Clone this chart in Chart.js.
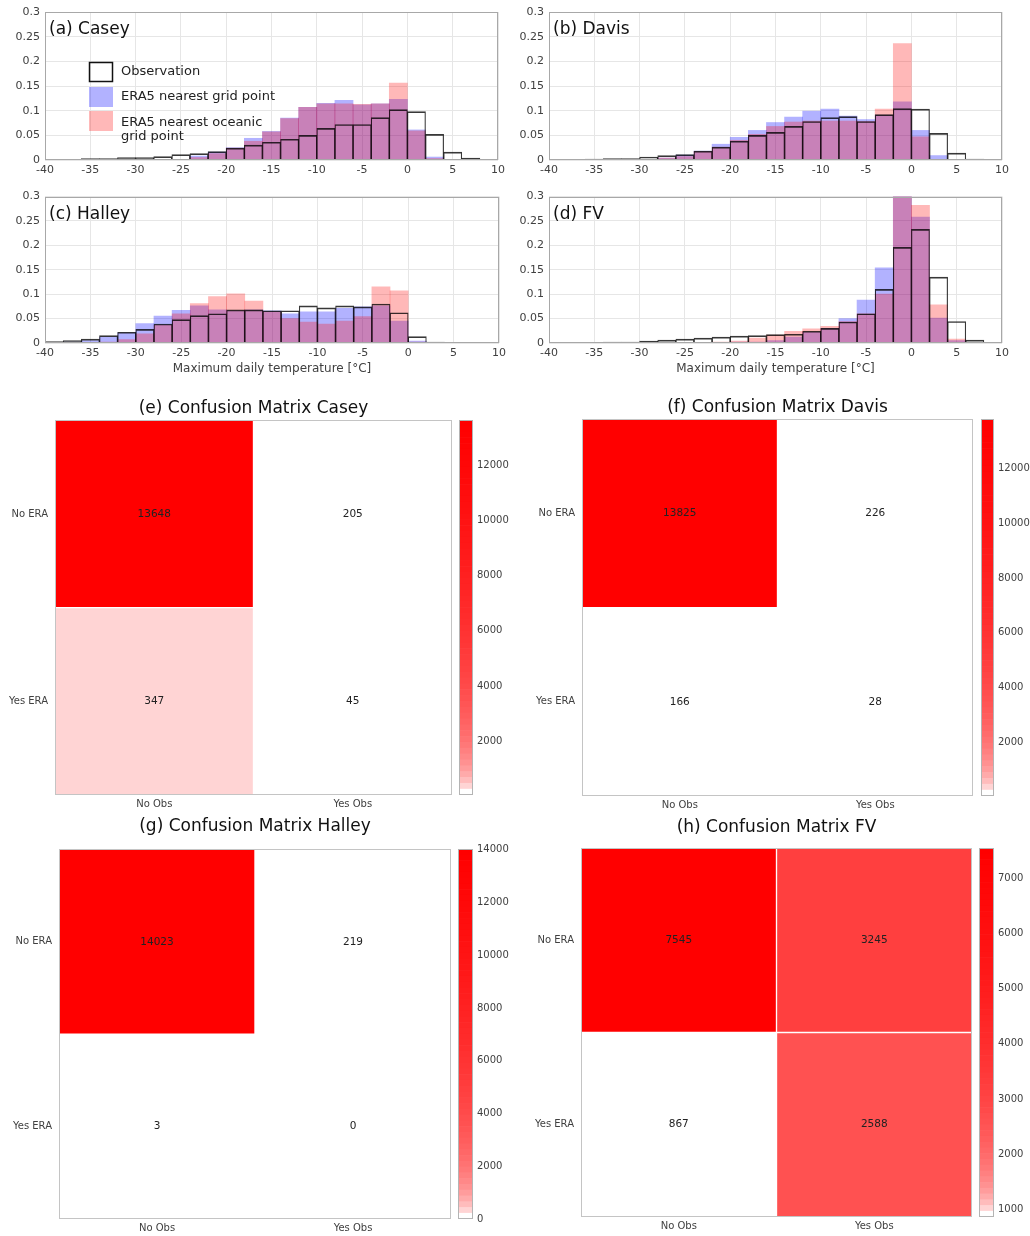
<!DOCTYPE html>
<html>
<head>
<meta charset="utf-8">
<script src="https://cdn.jsdelivr.net/npm/chart.js@4.4.0/dist/chart.umd.min.js"></script>
<style>
  body { margin: 0; background: #fff; }
  #wrap { position: relative; width: 1030px; height: 1236px; overflow: hidden; }
  canvas { position: absolute; }
</style>
</head>
<body>
<div id="wrap"></div>
<script>
// ---- histogram data: 2 degC bins from -40 to 10 ----
const binCentres = [-39, -37, -35, -33, -31, -29, -27, -25, -23, -21, -19, -17, -15, -13, -11, -9, -7, -5, -3, -1, 1, 3, 5, 7, 9];
const xTicks = [-40, -35, -30, -25, -20, -15, -10, -5, 0, 5, 10];
const yTicks = [0, 0.05, 0.1, 0.15, 0.2, 0.25, 0.3];
const yTickLabels = ['0', '0.05', '0.1', '0.15', '0.2', '0.25', '0.3'];

const caseyObs   = [0.001, 0.001, 0.003, 0.003, 0.005, 0.005, 0.007, 0.011, 0.013, 0.017, 0.024, 0.030, 0.036, 0.042, 0.050, 0.064, 0.072, 0.072, 0.086, 0.102, 0.098, 0.052, 0.016, 0.004, 0.001];
const caseyEra   = [0, 0, 0, 0, 0, 0, 0, 0.001, 0.008, 0.016, 0.025, 0.044, 0.058, 0.085, 0.107, 0.115, 0.121, 0.112, 0.114, 0.123, 0.061, 0.006, 0, 0, 0];
const caseyOcean = [0, 0, 0, 0, 0, 0, 0, 0, 0.005, 0.013, 0.024, 0.038, 0.057, 0.084, 0.107, 0.114, 0.114, 0.113, 0.114, 0.156, 0.059, 0.003, 0, 0, 0];

const davisObs   = [0, 0, 0.002, 0.003, 0.003, 0.006, 0.009, 0.011, 0.018, 0.026, 0.038, 0.050, 0.056, 0.068, 0.078, 0.086, 0.088, 0.078, 0.092, 0.104, 0.103, 0.054, 0.014, 0.002, 0];
const davisEra   = [0, 0, 0, 0, 0, 0.001, 0.004, 0.010, 0.018, 0.032, 0.046, 0.060, 0.076, 0.087, 0.099, 0.103, 0.089, 0.082, 0.091, 0.118, 0.060, 0.009, 0, 0, 0];
const davisOcean = [0, 0, 0, 0, 0, 0, 0.004, 0.007, 0.017, 0.026, 0.040, 0.052, 0.068, 0.077, 0.079, 0.079, 0.079, 0.078, 0.103, 0.236, 0.047, 0.001, 0, 0, 0];

const halleyObs   = [0.003, 0.005, 0.008, 0.015, 0.022, 0.028, 0.039, 0.048, 0.056, 0.060, 0.068, 0.068, 0.066, 0.066, 0.076, 0.072, 0.076, 0.074, 0.080, 0.062, 0.013, 0.002, 0, 0, 0];
const halleyEra   = [0, 0.002, 0.005, 0.012, 0.021, 0.040, 0.055, 0.067, 0.076, 0.068, 0.066, 0.068, 0.066, 0.060, 0.064, 0.064, 0.071, 0.074, 0.076, 0.045, 0.004, 0, 0, 0, 0];
const halleyOcean = [0, 0, 0, 0.002, 0.007, 0.019, 0.036, 0.060, 0.081, 0.095, 0.101, 0.086, 0.064, 0.050, 0.043, 0.039, 0.045, 0.054, 0.115, 0.107, 0.002, 0, 0, 0, 0];

const fvObs   = [0, 0, 0.001, 0.002, 0.002, 0.004, 0.006, 0.008, 0.010, 0.012, 0.014, 0.015, 0.017, 0.018, 0.024, 0.030, 0.043, 0.060, 0.110, 0.196, 0.233, 0.135, 0.044, 0.006, 0];
const fvEra   = [0, 0, 0, 0, 0, 0, 0, 0, 0, 0.001, 0.002, 0.002, 0.005, 0.012, 0.022, 0.030, 0.050, 0.088, 0.154, 0.310, 0.258, 0.051, 0.005, 0, 0];
const fvOcean = [0, 0, 0, 0, 0, 0, 0, 0, 0.001, 0.002, 0.004, 0.010, 0.016, 0.024, 0.029, 0.034, 0.044, 0.060, 0.100, 0.330, 0.282, 0.078, 0.008, 0, 0];

// ---- confusion matrices: rows = ERA (No / Yes), columns = Obs (No / Yes) ----
const eraLabels = ['No ERA', 'Yes ERA'];
const obsLabels = ['No Obs', 'Yes Obs'];
const caseyMatrix  = [[13648, 205], [347, 45]];
const davisMatrix  = [[13825, 226], [166, 28]];
const halleyMatrix = [[14023, 219], [3, 0]];
const fvMatrix     = [[7545, 3245], [867, 2588]];

const caseyBarTicks  = [2000, 4000, 6000, 8000, 10000, 12000];
const davisBarTicks  = [2000, 4000, 6000, 8000, 10000, 12000];
const halleyBarTicks = [0, 2000, 4000, 6000, 8000, 10000, 12000, 14000];
const fvBarTicks     = [1000, 2000, 3000, 4000, 5000, 6000, 7000];

const FONT = '"DejaVu Sans", sans-serif';
Chart.defaults.font.family = FONT;
Chart.defaults.color = '#404040';
Chart.defaults.animation = false;

function addCanvas(p) {
  const c = document.createElement('canvas');
  c.width = p.w; c.height = p.h;
  c.style.left = p.left + 'px'; c.style.top = p.top + 'px';
  c.style.width = p.w + 'px'; c.style.height = p.h + 'px';
  document.getElementById('wrap').appendChild(c);
  return c;
}

// grey box round the axes, like the matlab figure
const frame = {
  id: 'frame',
  afterDraw(chart, args, opts) {
    const a = chart.chartArea, ctx = chart.ctx;
    ctx.save();
    ctx.strokeStyle = opts.color || '#a8a8a8';
    ctx.lineWidth = 1;
    ctx.strokeRect(Math.round(a.left) + 0.5, Math.round(a.top) + 0.5,
      Math.round(a.right - a.left) - 1, Math.round(a.bottom - a.top) - 1);
    ctx.restore();
  }
};

// "(a) Casey" etc inside the top-left corner
const panelLabel = {
  id: 'panelLabel',
  afterDraw(chart, args, opts) {
    if (!opts.text) return;
    const a = chart.chartArea, ctx = chart.ctx;
    ctx.save();
    ctx.font = '17px ' + FONT;
    ctx.fillStyle = '#111';
    ctx.textBaseline = 'alphabetic';
    ctx.fillText(opts.text, a.left + 4, a.top + 22);
    ctx.restore();
  }
};

// legend only for panel (a), drawn inside the axes
const boxLegend = {
  id: 'boxLegend',
  afterDraw(chart, args, opts) {
    if (!opts.show) return;
    const a = chart.chartArea, ctx = chart.ctx;
    const ds = chart.data.datasets;
    const x = a.left + 44, tx = a.left + 76;
    ctx.save();
    ctx.font = '13px ' + FONT;
    ctx.fillStyle = '#222';
    ctx.textBaseline = 'middle';
    // Observation
    ctx.strokeStyle = '#111';
    ctx.lineWidth = 1.5;
    ctx.strokeRect(x + 0.5, a.top + 50.5, 23, 19);
    ctx.fillText(ds[0].label, tx, a.top + 60);
    // ERA5 nearest grid point
    ctx.fillStyle = ds[2].backgroundColor;
    ctx.fillRect(x, a.top + 75, 24, 20);
    ctx.fillStyle = '#222';
    ctx.fillText(ds[2].label, tx, a.top + 85);
    // ERA5 nearest oceanic grid point (two lines)
    ctx.fillStyle = ds[1].backgroundColor;
    ctx.fillRect(x, a.top + 99, 24, 20);
    ctx.fillStyle = '#222';
    ctx.fillText('ERA5 nearest oceanic', tx, a.top + 111);
    ctx.fillText('grid point', tx, a.top + 125);
    ctx.restore();
  }
};

function histogram(p, label, obs, era, ocean, legend, xTitle) {
  const pts = arr => binCentres.map((x, i) => ({ x: x, y: arr[i] }));
  return new Chart(addCanvas(p), {
    type: 'bar',
    data: {
      datasets: [
        // half-width side borders so neighbouring bins share a single 1px edge
        { label: 'Observation', data: pts(obs), backgroundColor: 'rgba(0,0,0,0)',
          borderColor: 'rgba(0,0,0,0.78)', borderWidth: { top: 1, left: 0.5, right: 0.5, bottom: 0 },
          borderSkipped: false, grouped: false },
        { label: 'ERA5 nearest oceanic grid point', data: pts(ocean), backgroundColor: 'rgba(255,0,0,0.28)',
          borderWidth: 0, grouped: false },
        { label: 'ERA5 nearest grid point', data: pts(era), backgroundColor: 'rgba(0,0,255,0.3)',
          borderWidth: 0, grouped: false }
      ]
    },
    options: {
      responsive: false,
      animation: false,
      events: [],
      layout: { autoPadding: false, padding: { top: p.padTop, right: p.padRight, left: 0, bottom: 0 } },
      datasets: { bar: { barPercentage: 1, categoryPercentage: 1 } },
      plugins: {
        legend: { display: false },
        tooltip: { enabled: false },
        panelLabel: { text: label },
        boxLegend: { show: legend }
      },
      scales: {
        x: {
          type: 'linear', min: -40, max: 10, offset: false,
          afterBuildTicks: s => { s.ticks = xTicks.map(v => ({ value: v })); },
          ticks: { font: { size: 11 }, color: '#404040', maxRotation: 0, padding: 4 },
          grid: { color: '#e6e6e6', drawTicks: false, offset: false },
          border: { display: false },
          title: { display: xTitle, text: 'Maximum daily temperature [°C]', font: { size: 12 },
                   color: '#404040', padding: { top: 2, bottom: 4 } },
          afterFit: s => { s.height = p.xh; }
        },
        y: {
          min: 0, max: 0.3,
          afterBuildTicks: s => { s.ticks = yTicks.map(v => ({ value: v })); },
          ticks: { font: { size: 11 }, color: '#404040', padding: 5,
                   callback: v => yTickLabels[yTicks.indexOf(v)] },
          grid: { color: '#e6e6e6', drawTicks: false },
          border: { display: false },
          afterFit: s => { s.width = p.yw; }
        }
      }
    },
    plugins: [frame, panelLabel, boxLegend]
  });
}

// colour map: 64 white->red levels, log spaced like the figure's colourbar
const LEVELS = 64;
function levelColour(k) {
  const g = Math.log(1 + k) / Math.log(LEVELS);
  const c = Math.round(255 * (1 - g));
  return 'rgb(255,' + c + ',' + c + ')';
}
function cellColour(v, lo, hi) {
  const k = Math.min(LEVELS - 1, Math.floor((v - lo) / (hi - lo) * LEVELS));
  return levelColour(k);
}

const cellText = {
  id: 'cellText',
  afterDatasetsDraw(chart) {
    const ctx = chart.ctx;
    ctx.save();
    ctx.font = '10.5px ' + FONT;
    ctx.fillStyle = '#222';
    ctx.textAlign = 'center';
    ctx.textBaseline = 'middle';
    chart.data.datasets.forEach((ds, di) => {
      chart.getDatasetMeta(di).data.forEach((el, i) => {
        ctx.fillText(String(ds.cellValues[i]), el.x, (el.y + el.base) / 2);
      });
    });
    ctx.restore();
  }
};

function confusion(p, title, m) {
  const flat = m.flat();
  const lo = Math.min(...flat), hi = Math.max(...flat);
  const n = eraLabels.length;
  return new Chart(addCanvas(p), {
    type: 'bar',
    data: {
      labels: obsLabels,
      datasets: eraLabels.map((r, ri) => ({
        label: r,
        data: m[ri].map(() => [n - ri - 1, n - ri]),
        cellValues: m[ri],
        backgroundColor: m[ri].map(v => cellColour(v, lo, hi)),
        borderColor: 'rgba(255,255,255,0.45)',
        borderWidth: 1,
        borderSkipped: false,
        grouped: false
      }))
    },
    options: {
      responsive: false,
      animation: false,
      events: [],
      layout: { autoPadding: false, padding: { top: 0, right: p.padRight, left: 0, bottom: 0 } },
      datasets: { bar: { barPercentage: 1, categoryPercentage: 1 } },
      plugins: {
        legend: { display: false },
        tooltip: { enabled: false },
        title: { display: true, text: title, fullSize: false, color: '#111',
                 font: { size: 17, weight: 'normal' }, padding: { top: 8, bottom: p.titleBottom } },
        frame: { color: '#c4c4c4' }
      },
      scales: {
        x: {
          ticks: { font: { size: 10 }, color: '#404040', padding: 3 },
          grid: { display: false, drawTicks: false },
          border: { display: false },
          afterFit: s => { s.height = p.xh; }
        },
        y: {
          min: 0, max: n,
          afterBuildTicks: s => { s.ticks = eraLabels.map((r, ri) => ({ value: n - ri - 0.5 })); },
          ticks: { font: { size: 10 }, color: '#404040', padding: 7,
                   callback: v => eraLabels[n - v - 0.5] },
          grid: { display: false, drawTicks: false },
          border: { display: false },
          afterFit: s => { s.width = p.yw; }
        }
      }
    },
    plugins: [cellText, frame]
  });
}

function colourbar(p, m, ticks) {
  const flat = m.flat();
  const lo = Math.min(...flat), hi = Math.max(...flat);
  const step = (hi - lo) / LEVELS;
  const levels = [];
  for (let k = 0; k < LEVELS; k++) {
    levels.push({ data: [[lo + k * step, lo + (k + 1) * step]], backgroundColor: levelColour(k),
                  borderWidth: 0, grouped: false });
  }
  return new Chart(addCanvas(p), {
    type: 'bar',
    data: { labels: [''], datasets: levels },
    options: {
      responsive: false,
      animation: false,
      events: [],
      layout: { autoPadding: false, padding: { top: 10, bottom: p.h - 10 - p.barH, left: 4, right: 0 } },
      datasets: { bar: { barPercentage: 1, categoryPercentage: 1 } },
      plugins: { legend: { display: false }, tooltip: { enabled: false }, frame: { color: '#b4b4b4' } },
      scales: {
        x: { display: false },
        y: {
          position: 'right', min: lo, max: hi,
          afterBuildTicks: s => { s.ticks = ticks.map(v => ({ value: v })); },
          ticks: { font: { size: 10 }, color: '#404040', padding: 4, callback: v => String(v) },
          grid: { display: false, drawTicks: false },
          border: { display: false },
          afterFit: s => { s.width = p.w - p.barRight; }
        }
      }
    },
    plugins: [frame]
  });
}

// ---- top: histograms ----
histogram({ left: 0,   top: 0,   w: 510, h: 185, padTop: 12, padRight: 12, yw: 45, xh: 25 },
  '(a) Casey', caseyObs, caseyEra, caseyOcean, true, false);
histogram({ left: 510, top: 0,   w: 520, h: 185, padTop: 12, padRight: 28, yw: 39, xh: 25 },
  '(b) Davis', davisObs, davisEra, davisOcean, false, false);
histogram({ left: 0,   top: 185, w: 510, h: 195, padTop: 9,  padRight: 11, yw: 45, xh: 37 },
  '(c) Halley', halleyObs, halleyEra, halleyOcean, false, true);
histogram({ left: 510, top: 185, w: 520, h: 195, padTop: 9,  padRight: 28, yw: 39, xh: 37 },
  '(d) FV', fvObs, fvEra, fvOcean, false, true);

// ---- bottom: confusion matrices + colourbars ----
confusion({ left: 0,   top: 390, w: 455, h: 420, padRight: 3, yw: 55, xh: 15, titleBottom: 2 },
  '(e) Confusion Matrix Casey', caseyMatrix);
colourbar({ left: 455, top: 410, w: 70, h: 395, barH: 375, barRight: 18 }, caseyMatrix, caseyBarTicks);

confusion({ left: 520, top: 389, w: 455, h: 422, padRight: 2, yw: 62, xh: 15, titleBottom: 2 },
  '(f) Confusion Matrix Davis', davisMatrix);
colourbar({ left: 977, top: 409, w: 53, h: 397, barH: 377, barRight: 17 }, davisMatrix, davisBarTicks);

confusion({ left: 0,   top: 808, w: 454, h: 426, padRight: 3, yw: 59, xh: 15, titleBottom: 13 },
  '(g) Confusion Matrix Halley', halleyMatrix);
colourbar({ left: 454, top: 839, w: 70, h: 390, barH: 370, barRight: 19 }, halleyMatrix, halleyBarTicks);

confusion({ left: 520, top: 809, w: 454, h: 423, padRight: 2, yw: 61, xh: 15, titleBottom: 10.6 },
  '(h) Confusion Matrix FV', fvMatrix);
colourbar({ left: 975, top: 838, w: 55, h: 389, barH: 369, barRight: 19 }, fvMatrix, fvBarTicks);
</script>
</body>
</html>
